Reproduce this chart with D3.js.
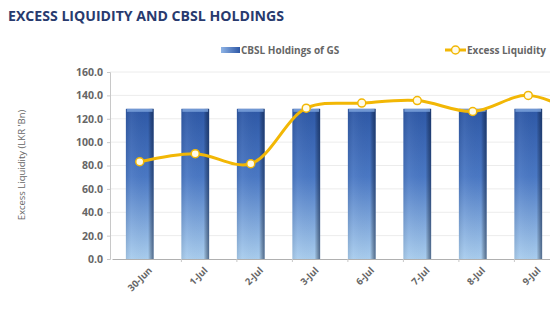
<!DOCTYPE html>
<html>
<head>
<meta charset="utf-8">
<script src="https://cdn.jsdelivr.net/npm/d3@7"></script>
<style>
  body { margin: 0; background: #fff; }
  text { font-family: "Open Sans", "DejaVu Sans", sans-serif; }
</style>
</head>
<body>
<svg width="550" height="310"></svg>
<script>
var dates = ["30-Jun", "1-Jul", "2-Jul", "3-Jul", "6-Jul", "7-Jul", "8-Jul", "9-Jul", "10-Jul"];
var shownDates = ["30-Jun", "1-Jul", "2-Jul", "3-Jul", "6-Jul", "7-Jul", "8-Jul", "9-Jul"];
var holdings = [128.5, 128.5, 128.5, 128.5, 128.5, 128.5, 128.5, 128.5, 128.5];
var liquidity = [83.2, 90.1, 81.5, 129.0, 133.4, 135.6, 126.2, 140.0, 122.0];
var yTicks = [0, 20, 40, 60, 80, 100, 120, 140, 160];

var svg = d3.select("svg");

var x = d3.scaleBand()
    .domain(dates)
    .range([112, 112 + 55.5 * dates.length])
    .paddingInner(0.5)
    .paddingOuter(0.25);

var y = d3.scaleLinear()
    .domain([0, 160])
    .range([259, 72]);

var defs = svg.append("defs");
var grad = defs.append("linearGradient")
    .attr("id", "barGrad")
    .attr("x1", 0).attr("y1", 0).attr("x2", 0).attr("y2", 1);
grad.append("stop").attr("offset", "0%").attr("stop-color", "#2e58a6");
grad.append("stop").attr("offset", "45%").attr("stop-color", "#4a78c4");
grad.append("stop").attr("offset", "100%").attr("stop-color", "#a9cdee");

var side = defs.append("linearGradient")
    .attr("id", "sideGrad")
    .attr("x1", 0).attr("y1", 0).attr("x2", 1).attr("y2", 0);
side.append("stop").attr("offset", "0%").attr("stop-color", "#000").attr("stop-opacity", 0.08);
side.append("stop").attr("offset", "20%").attr("stop-color", "#fff").attr("stop-opacity", 0.05);
side.append("stop").attr("offset", "80%").attr("stop-color", "#000").attr("stop-opacity", 0);
side.append("stop").attr("offset", "100%").attr("stop-color", "#0a1c3e").attr("stop-opacity", 0.55);

// title
svg.append("text")
    .attr("x", 8)
    .attr("y", 21)
    .attr("font-size", 15)
    .attr("font-weight", "bold")
    .attr("fill", "#283a6e")
    .attr("textLength", 276)
    .attr("lengthAdjust", "spacingAndGlyphs")
    .text("EXCESS LIQUIDITY AND CBSL HOLDINGS");

// gridlines
svg.append("g")
    .selectAll("line")
    .data(yTicks.slice(1))
    .enter().append("line")
      .attr("x1", 110)
      .attr("x2", 550)
      .attr("y1", function(d) { return y(d); })
      .attr("y2", function(d) { return y(d); })
      .attr("stroke", "#ececec")
      .attr("stroke-width", 1);

// y axis
var yAxis = svg.append("g")
    .attr("transform", "translate(110,0)")
    .call(d3.axisLeft(y).tickValues(yTicks).tickFormat(d3.format(".1f")).tickSize(3).tickPadding(4));
yAxis.select(".domain").attr("stroke", "#c8c8c8");
yAxis.selectAll(".tick line").attr("stroke", "#c8c8c8");
yAxis.selectAll("text")
    .attr("font-size", 10.5)
    .attr("font-weight", "bold")
    .attr("fill", "#666");

svg.append("text")
    .attr("transform", "translate(25,165) rotate(-90)")
    .attr("text-anchor", "middle")
    .attr("font-size", 9.5)
    .attr("fill", "#666")
    .text("Excess Liquidity (LKR 'Bn)");

// bars
var bars = svg.append("g").selectAll("g")
    .data(dates)
    .enter().append("g");

bars.append("rect")
    .attr("x", function(d) { return x(d); })
    .attr("y", function(d, i) { return y(holdings[i]); })
    .attr("width", x.bandwidth())
    .attr("height", function(d, i) { return y(0) - y(holdings[i]); })
    .attr("fill", "url(#barGrad)");

bars.append("rect")
    .attr("x", function(d) { return x(d); })
    .attr("y", function(d, i) { return y(holdings[i]); })
    .attr("width", x.bandwidth())
    .attr("height", function(d, i) { return y(0) - y(holdings[i]); })
    .attr("fill", "url(#sideGrad)");

bars.append("rect")
    .attr("x", function(d) { return x(d) + 1; })
    .attr("y", function(d, i) { return y(holdings[i]); })
    .attr("width", x.bandwidth() - 2)
    .attr("height", 3)
    .attr("fill", "#7fa6de")
    .attr("opacity", 0.8);

// x axis
var xAxis = svg.append("g")
    .attr("transform", "translate(0,259)")
    .call(d3.axisBottom(x).tickValues(shownDates).tickSize(0).tickPadding(8));
xAxis.select(".domain").attr("stroke", "#b0b0b0");
xAxis.selectAll("text")
    .attr("font-size", 9.5)
    .attr("font-weight", "bold")
    .attr("fill", "#666")
    .attr("text-anchor", "end")
    .attr("transform", "translate(4,3) rotate(-45)")
    .attr("dy", "0.5em");

svg.append("g").selectAll("line")
    .data(dates)
    .enter().append("line")
      .attr("x1", function(d) { return x(d) + x.bandwidth() * 2; })
      .attr("x2", function(d) { return x(d) + x.bandwidth() * 2; })
      .attr("y1", 259)
      .attr("y2", 262)
      .attr("stroke", "#c8c8c8");

// line
var cx = function(d, i) { return x(dates[i]) + x.bandwidth() / 2; };
var line = d3.line()
    .x(cx)
    .y(function(d) { return y(d); })
    .curve(d3.curveCatmullRom.alpha(0.5));

svg.append("path")
    .datum(liquidity)
    .attr("d", line)
    .attr("fill", "none")
    .attr("stroke", "#f2b705")
    .attr("stroke-width", 3);

svg.append("g").selectAll("circle")
    .data(liquidity)
    .enter().append("circle")
      .attr("cx", cx)
      .attr("cy", function(d) { return y(d); })
      .attr("r", 4)
      .attr("fill", "#fffbe8")
      .attr("stroke", "#f2b705")
      .attr("stroke-width", 1.5);

// legend
var lg = svg.append("g");
var lgGrad = defs.append("linearGradient")
    .attr("id", "legGrad")
    .attr("x1", 0).attr("y1", 0).attr("x2", 1).attr("y2", 0);
lgGrad.append("stop").attr("offset", "0%").attr("stop-color", "#8fb4e6");
lgGrad.append("stop").attr("offset", "100%").attr("stop-color", "#2e58a6");
lg.append("rect")
    .attr("x", 221).attr("y", 47).attr("width", 19).attr("height", 6)
    .attr("fill", "url(#legGrad)");
lg.append("text")
    .attr("x", 241).attr("y", 54)
    .attr("font-size", 10)
    .attr("font-weight", "bold")
    .attr("fill", "#666")
    .text("CBSL Holdings of GS");

lg.append("line")
    .attr("x1", 445).attr("x2", 466).attr("y1", 50).attr("y2", 50)
    .attr("stroke", "#f2b705").attr("stroke-width", 3);
lg.append("circle")
    .attr("cx", 455.5).attr("cy", 50).attr("r", 4)
    .attr("fill", "#fffbe8").attr("stroke", "#f2b705").attr("stroke-width", 1.5);
lg.append("text")
    .attr("x", 467).attr("y", 54)
    .attr("font-size", 10)
    .attr("font-weight", "bold")
    .attr("fill", "#666")
    .text("Excess Liquidity");
</script>
</body>
</html>
